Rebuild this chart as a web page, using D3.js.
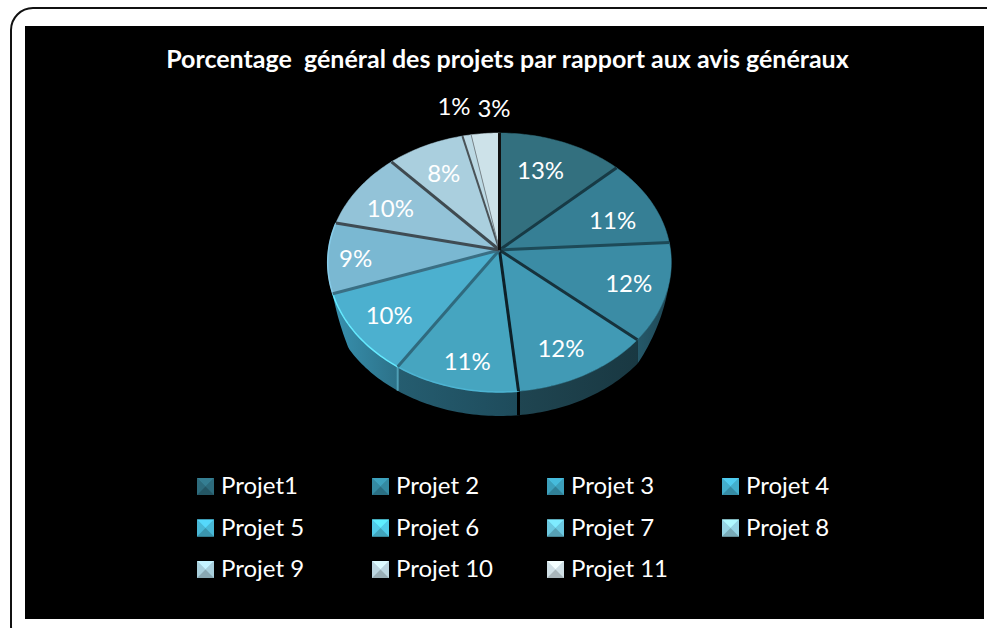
<!DOCTYPE html>
<html>
<head>
<meta charset="utf-8">
<title>Porcentage général des projets</title>
<script src="https://cdnjs.cloudflare.com/ajax/libs/d3/7.8.5/d3.min.js"></script>
<style>
  html, body { margin: 0; padding: 0; background: #fff; overflow: hidden; }
  svg { display: block; }
  text { font-family: Lato, "Open Sans", sans-serif; fill: #fff; }
</style>
</head>
<body>
<script>
  var chartTitle = "Porcentage\u00a0 général des projets par rapport aux avis généraux";
  var projets = ["Projet1", "Projet 2", "Projet 3", "Projet 4", "Projet 5", "Projet 6",
                 "Projet 7", "Projet 8", "Projet 9", "Projet 10", "Projet 11"];
  var valeurs = [13, 11, 12.3, 12, 10.8, 10.4, 8.8, 9.7, 8, 0.9, 2.9];
  var couleurs = ["#33707f", "#367f95", "#3b8ca5", "#419ab5", "#46a5c0", "#4cb0cf",
                  "#7ab8d2", "#93c3d8", "#aacfde", "#bcd9e4", "#cde2e9"];
  var traits = ["#173a45", "#1d4a58", "#16323c", "#0d2028", "#2f6a7e", "#3a6f84",
                "#3f4c54", "#3f4a50", "#4a5358", "#7a868c", "#101010"];
  var murs = ["#1a3a44", "#1a3a44", "#1f4a58", "#1a3a44", "#1f4e5e", "#2c7188",
              "#2c7188", "#2c7188", "#2c7188", "#2c7188", "#2c7188"];
  var legendCouleurs = ["#2d6b7c", "#348aa2", "#3c9fbb", "#43aecc", "#48b8d6", "#50cbe8",
                        "#6cc8e0", "#96d4e4", "#a8cfdc", "#bcd6e0", "#d0e0e6"];

  var width = 987, height = 628;
  // pie geometry, tilted with a small perspective (hub is not the ellipse centre)
  var cx = 499.5, cy = 250, R = 171, tilt = 0.75, persp = 0.0965, depth = 24;

  var svg = d3.select("body").append("svg")
    .attr("width", width)
    .attr("height", height);

  svg.append("rect")
    .attr("x", 11).attr("y", 8)
    .attr("width", 1000).attr("height", 640)
    .attr("rx", 22)
    .attr("fill", "#fff")
    .attr("stroke", "#111")
    .attr("stroke-width", 2);

  svg.append("rect")
    .attr("x", 25).attr("y", 26)
    .attr("width", 959).attr("height", 593)
    .attr("fill", "#000");

  svg.append("text")
    .attr("x", 507.5).attr("y", 68)
    .attr("text-anchor", "middle")
    .attr("font-size", 25)
    .attr("font-weight", 700)
    .text(chartTitle);

  function project(a, r) {
    var X = Math.sin(a) * r, Z = Math.cos(a) * r;
    var s = 1 / (1 + persp * Z);
    return [cx + R * X * s, cy - R * tilt * Z * s];
  }

  var pie = d3.pie().sort(null);
  var arcs = pie(valeurs);
  var line = d3.line();
  var defs = svg.append("defs");

  function arcPoints(a0, a1) {
    var n = Math.max(2, Math.ceil((a1 - a0) / 0.02));
    return d3.range(n + 1).map(function(i) {
      return project(a0 + (a1 - a0) * i / n, 1);
    });
  }

  // the wall gets thinner towards both ends of the visible rim
  var wallStart = 1.83, wallEnd = 4.38;
  function wallDepth(a) {
    return depth * Math.max(0, Math.min(1, (a - wallStart) / 0.45, (wallEnd - a) / 0.25));
  }
  function wallPoints(a0, a1) {
    var n = Math.max(2, Math.ceil((a1 - a0) / 0.02));
    return d3.range(n + 1).map(function(i) {
      var a = a0 + (a1 - a0) * i / n, p = project(a, 1);
      return [p[0], p[1] + wallDepth(a)];
    });
  }

  arcs.forEach(function(d, i) {
    var a0 = Math.max(d.startAngle, wallStart), a1 = Math.min(d.endAngle, wallEnd);
    if (a0 >= a1) return;
    var top = arcPoints(a0, a1);
    var bottom = wallPoints(a0, a1).reverse();
    var id = "mur" + i;
    var g = defs.append("linearGradient").attr("id", id)
      .attr("gradientUnits", "userSpaceOnUse")
      .attr("x1", top[0][0]).attr("x2", top[top.length - 1][0])
      .attr("y1", 0).attr("y2", 0);
    g.append("stop").attr("offset", "0%").attr("stop-color", d3.color(murs[i]).darker(i > 4 ? 0 : 0.1));
    g.append("stop").attr("offset", "100%").attr("stop-color", d3.color(murs[i]).brighter(i > 4 ? 0.7 : 0.5));
    svg.append("path")
      .attr("d", line(top.concat(bottom)) + "Z")
      .attr("fill", "url(#" + id + ")");
  });

  // cuts running down the wall
  [3, 4].forEach(function(i) {
    var a = arcs[i].endAngle, p = project(a, 1);
    svg.append("path")
      .attr("d", line([p, [p[0], p[1] + wallDepth(a)]]))
      .attr("stroke", i == 3 ? "#000" : "#4f9fb5")
      .attr("stroke-width", i == 3 ? 3 : 2);
  });

  // top faces
  var hub = project(0, 0);
  arcs.forEach(function(d, i) {
    var pts = [hub].concat(arcPoints(d.startAngle, d.endAngle));
    svg.append("path")
      .attr("d", line(pts) + "Z")
      .attr("fill", couleurs[i])
      .attr("stroke", couleurs[i])
      .attr("stroke-width", 0.5);
  });

  // lighter rim on the front slices
  [[4, 0.25], [5, 0.8], [6, 0.3]].forEach(function(b) {
    var d = arcs[b[0]];
    svg.append("path")
      .attr("d", line(arcPoints(d.startAngle, d.endAngle)))
      .attr("fill", "none")
      .attr("stroke", d3.color(couleurs[b[0]]).brighter(b[1]))
      .attr("stroke-width", 1.5);
  });

  // separators between slices
  var traitLargeurs = [3, 3, 3, 3, 3, 3, 3, 3, 2, 1, 3];
  arcs.forEach(function(d, i) {
    svg.append("path")
      .attr("d", line([hub, project(d.endAngle, 1)]))
      .attr("fill", "none")
      .attr("stroke", traits[i])
      .attr("stroke-width", traitLargeurs[i]);
  });

  // % labels: inside at 0.72 of the radius with a nudge, the small ones above the pie
  var labelDx = [-5, 3, 10, 1, -1, -9, 2, -6, -1];
  var labelDy = [0, 6, 3, 11, 15, 6, 2, 3, 0];
  var total = d3.sum(valeurs);
  arcs.forEach(function(d, i) {
    var a = (d.startAngle + d.endAngle) / 2;
    var p = project(a, i == 6 ? 0.85 : 0.72);
    if (i < 9) p = [p[0] + labelDx[i], p[1] + labelDy[i]];
    if (i == 9) p = [454, 107];
    if (i == 10) p = [494, 109];
    svg.append("text")
      .attr("x", p[0]).attr("y", p[1])
      .attr("dy", "0.35em")
      .attr("text-anchor", "middle")
      .attr("font-size", 24)
      .text(Math.round(d.value / total * 100) + "%");
  });

  // legend, markers are little pyramids
  var colX = d3.scalePoint().domain(d3.range(4)).range([197, 722]);
  var rowY = d3.scalePoint().domain(d3.range(3)).range([486.5, 569.5]);
  var s = 17;

  projets.forEach(function(name, i) {
    var g = svg.append("g")
      .attr("transform", "translate(" + colX(i % 4) + "," + (rowY(Math.floor(i / 4)) - s / 2) + ")");
    var c = legendCouleurs[i], m = [s / 2, s / 2];
    g.append("rect").attr("width", s).attr("height", s).attr("fill", c);
    var faces = [
      [[[0, 0], [s, 0], m], d3.color(c).brighter(0.45)],
      [[[0, 0], [0, s], m], d3.color(c)],
      [[[s, 0], [s, s], m], d3.color(c)],
      [[[0, s], [s, s], m], d3.color(c).darker(0.6)]
    ];
    faces.forEach(function(f) {
      g.append("path").attr("d", line(f[0]) + "Z").attr("fill", f[1]);
    });
    svg.append("text")
      .attr("x", colX(i % 4) + 24)
      .attr("y", rowY(Math.floor(i / 4)) + 7.5)
      .attr("font-size", 24)
      .text(name);
  });
</script>
</body>
</html>
